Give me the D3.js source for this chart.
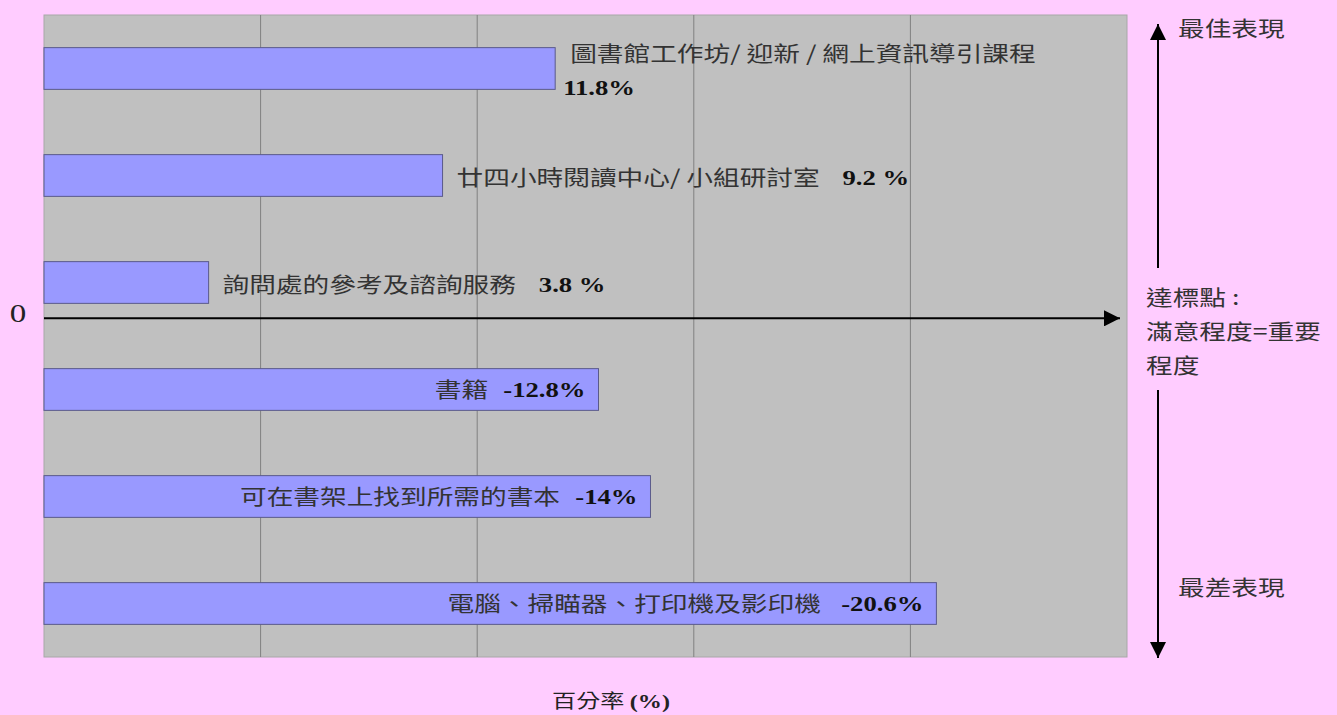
<!DOCTYPE html>
<html>
<head>
<meta charset="utf-8">
<script src="https://cdn.jsdelivr.net/npm/d3@7"></script>
<style>
  html, body { margin: 0; padding: 0; background: #ffccff; }
  svg { display: block; }
</style>
</head>
<body>
<svg id="canvas"></svg>
<script>
const categories = [
    "圖書館工作坊/ 迎新 / 網上資訊導引課程",
    "廿四小時閱讀中心/ 小組研討室",
    "詢問處的參考及諮詢服務",
    "書籍",
    "可在書架上找到所需的書本",
    "電腦、掃瞄器、打印機及影印機"
];
const values = [11.8, 9.2, 3.8, -12.8, -14, -20.6];
const valueLabels = ["11.8%", "9.2 %", "3.8 %", "-12.8%", "-14%", "-20.6%"];
const xTicks = [5, 10, 15, 20];

const width = 1337,
    height = 715;

const svg = d3.select("#canvas")
    .attr("width", width)
    .attr("height", height);

const plot = { left: 44, right: 1127, top: 15, bottom: 657 };
const cjk = "'Noto Sans CJK TC', 'Noto Sans CJK SC', sans-serif";
const serif = "'Liberation Serif', 'DejaVu Serif', serif";
// the source picture is stretched sideways, so text is widened to match
const stretch = 1.27;

function addText(parent, x, y, anchor) {
    return parent.append("text")
        .attr("transform", `translate(${x},${y}) scale(${stretch},1)`)
        .attr("text-anchor", anchor || "start")
        .attr("dy", "0.35em");
}

svg.append("rect")
    .attr("width", width)
    .attr("height", height)
    .attr("fill", "#ffccff");

const scaleX = d3.scaleLinear()
    .domain([0, 25])
    .range([plot.left, plot.right]);
const scaleY = d3.scaleBand()
    .domain(categories)
    .range([plot.top, plot.bottom])
    .paddingInner(0.61)
    .paddingOuter(0.305);

// plot area
svg.append("rect")
    .attr("x", plot.left)
    .attr("y", plot.top)
    .attr("width", plot.right - plot.left)
    .attr("height", plot.bottom - plot.top)
    .attr("fill", "#c0c0c0")
    .attr("stroke", "#a8a8a8")
    .attr("stroke-width", 1);

svg.append("g").selectAll("line")
    .data(xTicks)
    .join("line")
    .attr("x1", d => scaleX(d))
    .attr("x2", d => scaleX(d))
    .attr("y1", plot.top)
    .attr("y2", plot.bottom)
    .attr("stroke", "#808080")
    .attr("stroke-width", 1);

// bars
svg.append("g").selectAll("rect")
    .data(values)
    .join("rect")
    .attr("x", scaleX(0))
    .attr("y", (d, i) => scaleY(categories[i]))
    .attr("width", d => scaleX(Math.abs(d)) - scaleX(0))
    .attr("height", scaleY.bandwidth())
    .attr("fill", "#9999ff")
    .attr("stroke", "#5a5a8a")
    .attr("stroke-width", 1);

// arrow heads
svg.append("defs").append("marker")
    .attr("id", "arrow")
    .attr("viewBox", "0 0 10 10")
    .attr("refX", 10)
    .attr("refY", 5)
    .attr("markerWidth", 16)
    .attr("markerHeight", 16)
    .attr("markerUnits", "userSpaceOnUse")
    .attr("orient", "auto")
    .append("path")
    .attr("d", "M0,0L10,5L0,10Z")
    .attr("fill", "#000");

// zero line sits just below the last positive bar
const zeroY = scaleY(categories[2]) + scaleY.bandwidth() + 15;
svg.append("line")
    .attr("x1", scaleX(0))
    .attr("x2", 1120)
    .attr("y1", zeroY)
    .attr("y2", zeroY)
    .attr("stroke", "#000")
    .attr("stroke-width", 2)
    .attr("marker-end", "url(#arrow)");
addText(svg, 18, zeroY - 5, "middle")
    .attr("font-family", serif)
    .attr("font-size", 26)
    .attr("fill", "#222")
    .text("0");

// bar labels
const labels = svg.append("g");
values.forEach((v, i) => {
    const top = scaleY(categories[i]);
    const yMid = top + scaleY.bandwidth() / 2;
    const end = scaleX(Math.abs(v));
    if (v > 0 && i === 0) {
        addText(labels, end + 15, top + 6)
            .attr("font-family", cjk)
            .attr("font-size", 21)
            .attr("fill", "#333")
            .text(categories[i]);
        addText(labels, end + 8, top + scaleY.bandwidth() - 2)
            .attr("font-family", serif)
            .attr("font-weight", "bold")
            .attr("font-size", 21)
            .attr("fill", "#111")
            .text(valueLabels[i]);
    } else {
        const t = v > 0
            ? addText(labels, end + 14, yMid + 2)
            : addText(labels, end - 13, yMid, "end");
        t.attr("font-size", 21).attr("fill", "#333");
        t.append("tspan")
            .attr("font-family", cjk)
            .text(categories[i]);
        t.append("tspan")
            .attr("font-family", serif)
            .attr("font-weight", "bold")
            .attr("fill", "#111")
            .attr("dx", v > 0 ? 18 : (i === 5 ? 16 : 12))
            .text(valueLabels[i]);
    }
});

// right side arrow and notes
const arrowX = 1158;
svg.append("line")
    .attr("x1", arrowX).attr("x2", arrowX)
    .attr("y1", 268).attr("y2", 24)
    .attr("stroke", "#000")
    .attr("stroke-width", 2)
    .attr("marker-end", "url(#arrow)");
svg.append("line")
    .attr("x1", arrowX).attr("x2", arrowX)
    .attr("y1", 390).attr("y2", 658)
    .attr("stroke", "#000")
    .attr("stroke-width", 2)
    .attr("marker-end", "url(#arrow)");

const noteStyle = sel => sel
    .attr("font-family", cjk)
    .attr("font-size", 21)
    .attr("fill", "#333");

addText(svg, 1178, 29).call(noteStyle).text("最佳表現");
addText(svg, 1178, 588).call(noteStyle).text("最差表現");
["達標點 :", "滿意程度=重要", "程度"].forEach((s, i) => {
    addText(svg, 1146, 298 + i * 34).call(noteStyle).text(s);
});

// axis title
const title = addText(svg, 611, 701, "middle")
    .attr("font-size", 19)
    .attr("fill", "#222");
title.append("tspan").attr("font-family", cjk).text("百分率 ");
title.append("tspan").attr("font-family", serif).attr("font-weight", "bold").text("(%)");
</script>
</body>
</html>
